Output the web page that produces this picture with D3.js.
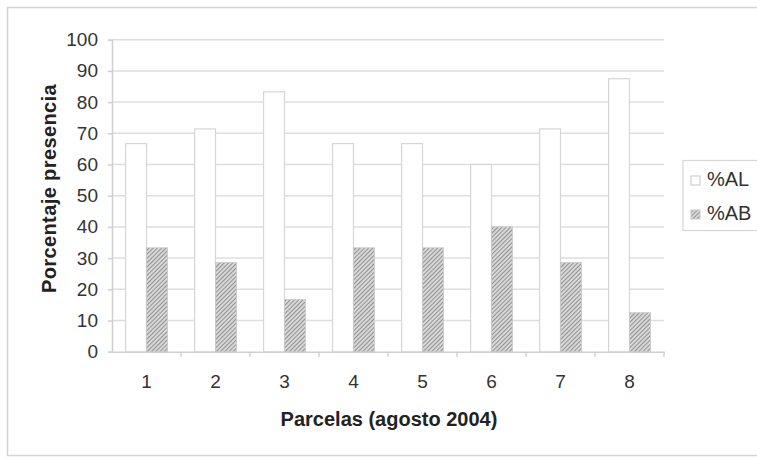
<!DOCTYPE html>
<html>
<head>
<meta charset="utf-8">
<script src="https://cdn.jsdelivr.net/npm/d3@7"></script>
<style>
  html, body { margin: 0; padding: 0; background: #fff; }
  svg { display: block; font-family: "Liberation Sans", Arial, sans-serif; }
</style>
</head>
<body>
<svg id="chart" width="757" height="458"></svg>
<script>
// Presence percentages per plot (August 2004)
const parcelas = ["1", "2", "3", "4", "5", "6", "7", "8"];
const seriesNames = ["%AL", "%AB"];
const valoresAL = [66.7, 71.4, 83.3, 66.7, 66.7, 60.0, 71.4, 87.5];
const valoresAB = [33.3, 28.6, 16.7, 33.3, 33.3, 40.0, 28.6, 12.5];
const yTicks = [0, 10, 20, 30, 40, 50, 60, 70, 80, 90, 100];

const svg = d3.select("#chart");
const W = 757, H = 458;
const plot = { left: 112, right: 664, top: 39.7, bottom: 351.7 };

// Hatch fill for the %AB series
const defs = svg.append("defs");
const pat = defs.append("pattern")
  .attr("id", "hatch")
  .attr("patternUnits", "userSpaceOnUse")
  .attr("width", 3).attr("height", 3)
  .attr("patternTransform", "rotate(45)");
pat.append("rect").attr("width", 3).attr("height", 3).attr("fill", "#d8d8d8");
pat.append("line").attr("x1", 0).attr("y1", 0).attr("x2", 0).attr("y2", 3)
  .attr("stroke", "#6a6a6a").attr("stroke-width", 1.3);

// Outer frame
svg.append("rect")
  .attr("x", 7.5).attr("y", 7.5).attr("width", W).attr("height", 448)
  .attr("fill", "none").attr("stroke", "#d4d4d4").attr("stroke-width", 1.5);

const x = d3.scaleBand().domain(parcelas).range([plot.left, plot.right]).padding(0);
const x1 = d3.scaleBand().domain(seriesNames).range([0, x.bandwidth()]).paddingInner(0).paddingOuter(0.65);
const y = d3.scaleLinear().domain([0, 100]).range([plot.bottom, plot.top]);

// Horizontal gridlines
svg.append("g")
  .selectAll("line")
  .data(yTicks.filter(d => d > 0))
  .join("line")
  .attr("x1", plot.left).attr("x2", plot.right)
  .attr("y1", d => y(d)).attr("y2", d => y(d))
  .attr("stroke", "#dedede").attr("stroke-width", 1.5);

// Y axis
const yAxis = svg.append("g")
  .attr("transform", `translate(${plot.left},0)`)
  .call(d3.axisLeft(y).tickValues(yTicks).tickSize(4).tickPadding(10).tickFormat(d3.format("d")));
yAxis.select(".domain").attr("stroke", "#d0d0d0").attr("stroke-width", 1.5);
yAxis.selectAll(".tick line").attr("stroke", "#d0d0d0").attr("stroke-width", 1.5);
yAxis.selectAll(".tick text").attr("fill", "#333").style("font-size", "19px");

// X axis with ticks between categories
const xAxis = svg.append("g")
  .attr("transform", `translate(0,${plot.bottom})`)
  .call(d3.axisBottom(x).tickSize(0).tickPadding(23));
xAxis.select(".domain").attr("stroke", "#d0d0d0").attr("stroke-width", 1.5);
xAxis.selectAll(".tick text").attr("fill", "#333").style("font-size", "19px");
svg.append("g")
  .selectAll("line")
  .data(parcelas)
  .join("line")
  .attr("x1", d => x(d) + x.bandwidth()).attr("x2", d => x(d) + x.bandwidth())
  .attr("y1", plot.bottom).attr("y2", plot.bottom + 5)
  .attr("stroke", "#d0d0d0").attr("stroke-width", 1.5);

// Bars
const groups = svg.append("g")
  .selectAll("g")
  .data(parcelas.map((p, i) => ({ p, AL: valoresAL[i], AB: valoresAB[i] })))
  .join("g")
  .attr("transform", d => `translate(${x(d.p)},0)`);

groups.append("rect")
  .attr("x", x1("%AL")).attr("width", x1.bandwidth())
  .attr("y", d => y(d.AL)).attr("height", d => y(0) - y(d.AL))
  .attr("fill", "#ffffff").attr("stroke", "#d6d6d6").attr("stroke-width", 1.2);

groups.append("rect")
  .attr("x", x1("%AB")).attr("width", x1.bandwidth())
  .attr("y", d => y(d.AB)).attr("height", d => y(0) - y(d.AB))
  .attr("fill", "url(#hatch)").attr("stroke", "#c8c8c8").attr("stroke-width", 0.8);

// Axis titles
svg.append("text")
  .attr("x", 389).attr("y", 425.5)
  .attr("text-anchor", "middle")
  .attr("fill", "#222").style("font-size", "20px").style("font-weight", "bold")
  .text("Parcelas (agosto 2004)");

svg.append("text")
  .attr("transform", "translate(55.5,188.5) rotate(-90)")
  .attr("text-anchor", "middle")
  .attr("fill", "#222").style("font-size", "20px").style("font-weight", "bold")
  .style("letter-spacing", "0.4px")
  .text("Porcentaje presencia");

// Legend
const legend = svg.append("g");
legend.append("rect")
  .attr("x", 683).attr("y", 160.5).attr("width", 90).attr("height", 70)
  .attr("fill", "#fff").attr("stroke", "#d6d6d6").attr("stroke-width", 1.2);
const items = legend.selectAll("g.item")
  .data(seriesNames)
  .join("g").attr("class", "item")
  .attr("transform", (d, i) => `translate(691,${186 + i * 34})`);
items.append("rect")
  .attr("x", 0).attr("y", -10).attr("width", 9).attr("height", 9)
  .attr("fill", (d, i) => i === 0 ? "#fff" : "url(#hatch)")
  .attr("stroke", "#c8c8c8").attr("stroke-width", 1);
items.append("text")
  .attr("x", 16).attr("y", 0)
  .attr("fill", "#333").style("font-size", "20px")
  .text(d => d);
</script>
</body>
</html>
